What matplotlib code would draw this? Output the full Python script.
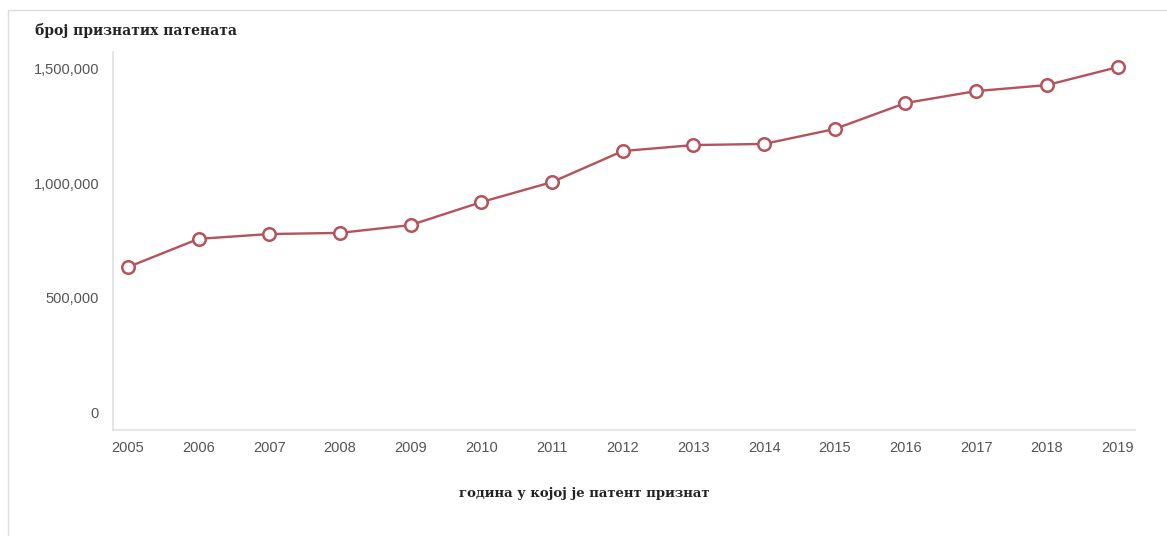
import matplotlib
matplotlib.use('Agg')
import matplotlib.pyplot as plt
import matplotlib.ticker as ticker
from matplotlib.patches import Rectangle

# године и број признатих патената (очитано са слике)
years = [2005, 2006, 2007, 2008, 2009, 2010, 2011, 2012, 2013, 2014, 2015, 2016, 2017, 2018, 2019]
patents = [634000, 757000, 778000, 783000, 817000, 917000, 1004000, 1139000, 1165000, 1170000,
           1235000, 1348000, 1400000, 1426000, 1504000]
yticks = [0, 500000, 1000000, 1500000]

line_color = '#b5525c'

fig = plt.figure(figsize=(11.67, 5.36), dpi=100)
ax = fig.add_axes([0.0968, 0.198, 0.876, 0.705])

# оквир око графикона (доња и десна ивица ван слике)
fig.patches.append(Rectangle((8 / 1167, -0.1), 1.2, 1.1 - 10 / 536, transform=fig.transFigure,
                             fill=False, edgecolor='#dddddd', linewidth=1))

ax.plot(years, patents, color=line_color, linewidth=1.7, marker='o', markersize=9,
        markerfacecolor='white', markeredgecolor=line_color, markeredgewidth=1.8, zorder=3)

ax.set_xlim(2004.79, 2019.25)
ax.set_ylim(-74000, 1570000)
ax.set_xticks(years)
ax.set_yticks(yticks)
ax.yaxis.set_major_formatter(ticker.FuncFormatter(lambda v, p: f'{v:,.0f}'))

for s in ['top', 'right']:
    ax.spines[s].set_visible(False)
for s in ['left', 'bottom']:
    ax.spines[s].set_color('#e0e0e0')
    ax.spines[s].set_linewidth(1.2)

ax.tick_params(length=0, labelsize=10.5, labelcolor='#555555')
ax.tick_params(axis='y', pad=10)
ax.tick_params(axis='x', pad=8)
for lab in ax.get_xticklabels() + ax.get_yticklabels():
    lab.set_family('Liberation Sans')

fig.text(35 / 1167, 1 - 30 / 536, 'број признатих патената', family='DejaVu Serif',
         fontweight='bold', fontsize=10, color='#222222', ha='left', va='center')
fig.text(584 / 1167, 1 - 493 / 536, 'година у којој је патент признат', family='DejaVu Serif',
         fontweight='bold', fontsize=9.5, color='#222222', ha='center', va='center')

fig.savefig('out.png', dpi=100)
